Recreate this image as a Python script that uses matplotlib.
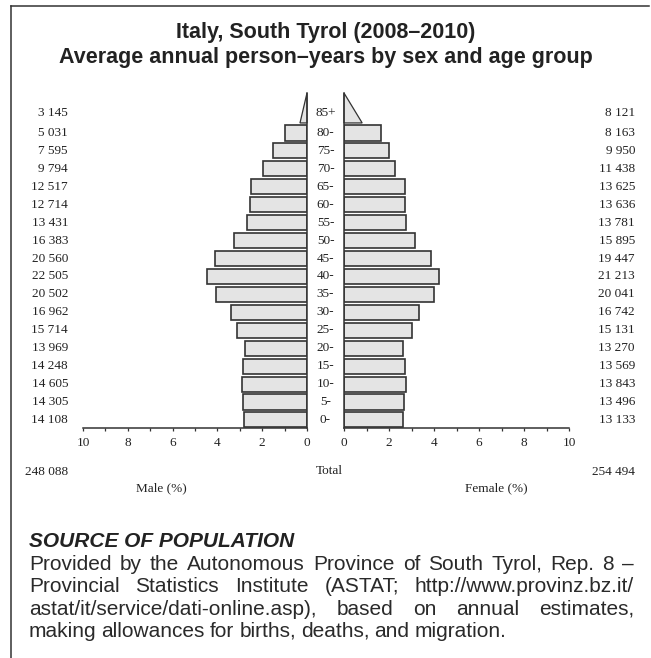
import matplotlib
matplotlib.use("Agg")
import matplotlib.pyplot as plt
from matplotlib.lines import Line2D
from matplotlib.patches import Polygon
from matplotlib.transforms import blended_transform_factory

# person-years by 5-year age group, 0- up to 85+
ages = ["0-", "5-", "10-", "15-", "20-", "25-", "30-", "35-", "40-",
        "45-", "50-", "55-", "60-", "65-", "70-", "75-", "80-", "85+"]
male = [14108, 14305, 14605, 14248, 13969, 15714, 16962, 20502, 22505,
        20560, 16383, 13431, 12714, 12517, 9794, 7595, 5031, 3145]
female = [13133, 13496, 13843, 13569, 13270, 15131, 16742, 20041, 21213,
          19447, 15895, 13781, 13636, 13625, 11438, 9950, 8163, 8121]

title_lines = ["Italy, South Tyrol (2008\u20132010)",
               "Average annual person\u2013years by sex and age group"]
source_head = "SOURCE OF POPULATION"
source_lines = [
    "Provided by the Autonomous Province of South Tyrol, Rep. 8 \u2013",
    "Provincial Statistics Institute (ASTAT; http://www.provinz.bz.it/",
    "astat/it/service/dati-online.asp), based on annual estimates,",
    "making allowances for births, deaths, and migration.",
]

W, H = 651, 658
FILL = "#e4e4e4"
EDGE = "#333333"
INK = "#222222"
SERIF = "Liberation Serif"
SANS = "Liberation Sans"
OPEN_END = 0.5   # base of the 85+ wedge relative to its share


def fx(x):
    return x / W


def fy(y):
    return 1 - y / H


def fmt(n):
    return f"{n:,}".replace(",", " ")


male_tot = sum(male)
female_tot = sum(female)
grand = male_tot + female_tot
male_pct = [v / grand * 100 for v in male]
female_pct = [v / grand * 100 for v in female]

fig = plt.figure(figsize=(W / 100, H / 100), dpi=100)

axm = fig.add_axes([fx(83), fy(428), 224 / W, 335 / H])
axf = fig.add_axes([fx(344), fy(428), 225 / W, 335 / H])

n = len(ages) - 1
rows = list(range(n))
bar_h = 0.84
wedge_lo, wedge_hi = 16.56, 18.23

for ax, pct in ((axm, male_pct), (axf, female_pct)):
    ax.barh(rows, pct[:n], height=bar_h, color=FILL, edgecolor=EDGE, linewidth=1.2)
    b = pct[n] * OPEN_END
    ax.add_patch(Polygon([(0, wedge_lo), (b, wedge_lo), (0, wedge_hi)],
                         closed=True, facecolor=FILL, edgecolor=EDGE,
                         linewidth=0.9, clip_on=False))
    ax.set_ylim(-0.45, wedge_hi)
    ax.set_yticks([])
    ax.set_xticks(range(0, 11, 2))
    ax.set_xticks(range(1, 11, 2), minor=True)
    ax.tick_params(axis="x", which="both", direction="out", length=2.5,
                   width=0.9, color=EDGE, pad=4, labelsize=9.5,
                   labelcolor=INK)
    for lab in ax.get_xticklabels():
        lab.set_fontfamily(SERIF)
    ax.spines["top"].set_visible(False)
    for s in ax.spines.values():
        s.set_color(EDGE)
        s.set_linewidth(1.1)
    ax.patch.set_alpha(0)

axm.set_xlim(10, 0)
axm.spines["left"].set_visible(False)
axf.set_xlim(0, 10)
axf.spines["right"].set_visible(False)

# age group names and counts, row by row
tr = blended_transform_factory(fig.transFigure, axm.transData)
txt = dict(fontfamily=SERIF, fontsize=9.5, color=INK, va="center")
for i, a in enumerate(ages):
    y = i if i < n else 17.12
    fig.text(fx(325.5), y, a, ha="center", transform=tr, **txt)
    fig.text(fx(68), y, fmt(male[i]), ha="right", transform=tr, **txt)
    fig.text(fx(635), y, fmt(female[i]), ha="right", transform=tr, **txt)

fig.text(fx(68), fy(472), fmt(male_tot), ha="right", **txt)
fig.text(fx(329), fy(471), "Total", ha="center", **txt)
fig.text(fx(635), fy(472), fmt(female_tot), ha="right", **txt)
fig.text(fx(161), fy(488), "Male (%)", ha="center", **txt)
fig.text(fx(496), fy(488), "Female (%)", ha="center", **txt)

# title
for yy, line in zip((38, 63), title_lines):
    fig.text(fx(326), fy(yy), line, ha="center", va="baseline",
             fontfamily=SANS, fontweight="bold", fontsize=15.5, color=INK)

# frame lines, top and left
fig.add_artist(Line2D([fx(11), fx(649)], [fy(6), fy(6)], color=EDGE, lw=1.1))
fig.add_artist(Line2D([fx(11), fx(11)], [fy(6), fy(658)], color=EDGE, lw=1.1))

# source note, justified between two margins
fig.text(fx(29), fy(547), source_head, ha="left", va="baseline",
         fontfamily=SANS, fontweight="bold", fontstyle="italic",
         fontsize=15, color=INK)

renderer = fig.canvas.get_renderer()
x0, x1 = 29, 634
for k, line in enumerate(source_lines):
    yy = 570 + k * 22.3
    words = line.split(" ")
    texts = [fig.text(fx(x0), fy(yy), w, ha="left", va="baseline",
                      fontfamily=SANS, fontsize=15, color="#2a2a2a")
             for w in words]
    widths = [t.get_window_extent(renderer).width for t in texts]
    gap = 5.0
    if k < len(source_lines) - 1:
        gap = max(3.0, (x1 - x0 - sum(widths)) / (len(words) - 1))
    x = x0
    for t, w in zip(texts, widths):
        t.set_x(fx(x))
        x += w + gap

fig.savefig("out.png", dpi=100)
